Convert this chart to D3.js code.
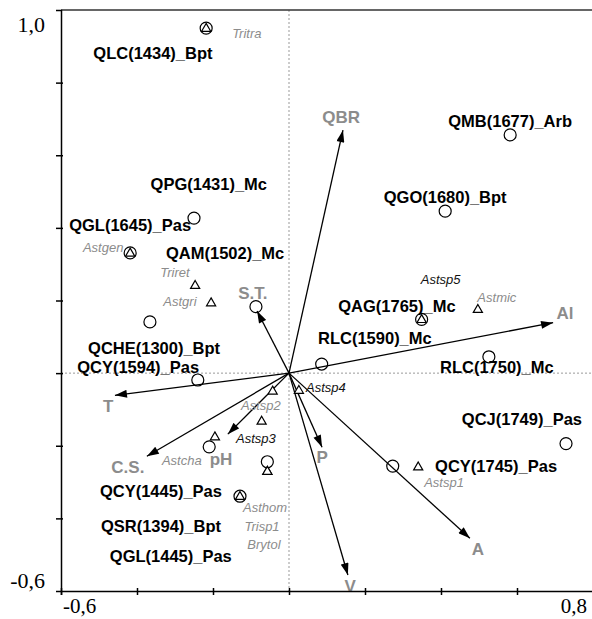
<!DOCTYPE html>
<html lang="en">

<head>
    <meta charset="UTF-8">
    <script src="https://d3js.org/d3.v7.min.js"></script>
    <title>CCA biplot</title>
    <style>
        body { margin: 0; background: #fff; }
        svg { display: block; }
    </style>
</head>

<body>
    <svg class="chart"></svg>
    <script>
        // sites (circles)
        var siteNames = ["QLC(1434)_Bpt", "QMB(1677)_Arb", "QGO(1680)_Bpt", "QPG(1431)_Mc", "QGL(1645)_Pas",
            "QCHE(1300)_Bpt", "QAM(1502)_Mc", "QCY(1594)_Pas", "RLC(1590)_Mc", "RLC(1750)_Mc", "QAG(1765)_Mc",
            "QCJ(1749)_Pas", "QCY(1745)_Pas", "QCY(1445)_Pas", "QSR(1394)_Bpt", "QGL(1445)_Pas"];
        var siteX = [-0.218, 0.582, 0.411, -0.250, -0.418, -0.366, -0.087, -0.240, 0.086, 0.526, 0.349,
            0.729, 0.273, -0.210, -0.057, -0.129];
        var siteY = [0.950, 0.656, 0.446, 0.427, 0.331, 0.141, 0.183, -0.019, 0.025, 0.045, 0.148,
            -0.194, -0.256, -0.203, -0.244, -0.339];
        var siteLabelX = [-0.358, 0.582, 0.411, -0.211, -0.418, -0.355, -0.168, -0.397, 0.226, 0.547, 0.284,
            0.613, 0.545, -0.337, -0.337, -0.311];
        var siteLabelY = [0.882, 0.694, 0.485, 0.521, 0.408, 0.069, 0.331, 0.017, 0.096, 0.017, 0.185,
            -0.127, -0.256, -0.325, -0.421, -0.504];

        // species (triangles)
        var speciesNames = ["Tritra", "Astgen", "Triret", "Astgri", "Astsp5", "Astmic", "Astsp4", "Astsp2",
            "Astsp3", "Astcha", "Asthom", "Trisp1", "Brytol", "Astsp1"];
        var speciesX = [-0.218, -0.418, -0.247, -0.205, 0.349, 0.497, 0.026, -0.043, -0.072, -0.195, -0.129,
            -0.057, -0.057, 0.340];
        var speciesY = [0.950, 0.331, 0.242, 0.194, 0.148, 0.176, -0.047, -0.049, -0.132, -0.175, -0.339,
            -0.270, -0.270, -0.258];
        var speciesLabelX = [-0.111, -0.489, -0.300, -0.287, 0.399, 0.547, 0.097, -0.074, -0.087, -0.282,
            -0.063, -0.071, -0.066, 0.408];
        var speciesLabelY = [0.937, 0.347, 0.278, 0.198, 0.259, 0.209, -0.039, -0.088, -0.179, -0.240,
            -0.369, -0.421, -0.471, -0.300];
        var speciesDark = [false, false, false, false, true, false, true, false, true, false, false, false, false, false];

        // environmental variables (arrows)
        var envNames = ["QBR", "Al", "A", "V", "P", "pH", "C.S.", "T", "S.T."];
        var envX = [0.142, 0.695, 0.476, 0.155, 0.087, -0.161, -0.374, -0.458, -0.084];
        var envY = [0.669, 0.139, -0.455, -0.556, -0.204, -0.168, -0.229, -0.061, 0.171];
        var envLabelX = [0.137, 0.726, 0.497, 0.161, 0.087, -0.179, -0.424, -0.476, -0.095];
        var envLabelY = [0.705, 0.165, -0.485, -0.587, -0.231, -0.237, -0.259, -0.091, 0.220];

        var xTicks = [-0.6, -0.4, -0.2, 0, 0.2, 0.4, 0.6];
        var yTicks = [-0.4, -0.2, 0, 0.2, 0.4, 0.6, 0.8];

        var width = 592, height = 619;
        var svg = d3.select(".chart")
            .attr("width", width)
            .attr("height", height);

        var x = d3.scaleLinear().domain([-0.6, 0.8]).range([61, 593]);
        var y = d3.scaleLinear().domain([-0.6, 1.0]).range([591, 10]);

        svg.append("defs").append("marker")
            .attr("id", "head")
            .attr("viewBox", "0 0 12 8")
            .attr("refX", 12)
            .attr("refY", 4)
            .attr("markerUnits", "userSpaceOnUse")
            .attr("markerWidth", 13)
            .attr("markerHeight", 8)
            .attr("orient", "auto")
            .append("path")
            .attr("d", "M0,0 L12,4 L0,8 Z")
            .attr("fill", "black");

        // origin cross
        svg.append("line")
            .attr("x1", x(0)).attr("x2", x(0))
            .attr("y1", y(1.0)).attr("y2", y(-0.6))
            .attr("stroke", "#999").attr("stroke-width", 1)
            .attr("stroke-dasharray", "2,2");
        svg.append("line")
            .attr("x1", x(-0.6)).attr("x2", width)
            .attr("y1", y(0)).attr("y2", y(0))
            .attr("stroke", "#999").attr("stroke-width", 1)
            .attr("stroke-dasharray", "2,2");

        // arrows
        for (var i = 0; i < envNames.length; i++) {
            svg.append("line")
                .attr("x1", x(0)).attr("y1", y(0))
                .attr("x2", x(envX[i])).attr("y2", y(envY[i]))
                .attr("stroke", "black").attr("stroke-width", 1.3)
                .attr("marker-end", "url(#head)");
            svg.append("text")
                .attr("x", x(envLabelX[i]))
                .attr("y", y(envLabelY[i]))
                .attr("dy", "0.36em")
                .attr("text-anchor", "middle")
                .attr("font-family", "Liberation Sans, Arial, sans-serif")
                .attr("font-weight", "bold")
                .attr("font-size", 17)
                .attr("fill", "#8c8c8c")
                .text(envNames[i]);
        }

        // sites
        for (var i = 0; i < siteNames.length; i++) {
            svg.append("circle")
                .attr("cx", x(siteX[i]))
                .attr("cy", y(siteY[i]))
                .attr("r", 6)
                .attr("fill", "none")
                .attr("stroke", "black")
                .attr("stroke-width", 1.2);
            svg.append("text")
                .attr("x", x(siteLabelX[i]))
                .attr("y", y(siteLabelY[i]))
                .attr("dy", "0.36em")
                .attr("text-anchor", "middle")
                .attr("font-family", "Liberation Sans, Arial, sans-serif")
                .attr("font-weight", "bold")
                .attr("font-size", 16.5)
                .attr("fill", "black")
                .text(siteNames[i]);
        }

        // species
        var tri = d3.symbol().type(d3.symbolTriangle).size(36);
        for (var i = 0; i < speciesNames.length; i++) {
            svg.append("path")
                .attr("d", tri)
                .attr("transform", "translate(" + x(speciesX[i]) + "," + (y(speciesY[i]) + 0.5) + ")")
                .attr("fill", "white")
                .attr("stroke", "black")
                .attr("stroke-width", 1.2);
            svg.append("text")
                .attr("x", x(speciesLabelX[i]))
                .attr("y", y(speciesLabelY[i]))
                .attr("dy", "0.36em")
                .attr("text-anchor", "middle")
                .attr("font-family", "Liberation Sans, Arial, sans-serif")
                .attr("font-style", "italic")
                .attr("font-size", 13)
                .attr("fill", speciesDark[i] ? "#111" : "#8c8c8c")
                .text(speciesNames[i]);
        }

        // frame and axes
        svg.append("line")
            .attr("x1", x(-0.6)).attr("x2", width)
            .attr("y1", y(1.0)).attr("y2", y(1.0))
            .attr("stroke", "#333").attr("stroke-width", 1.5);

        var yAxis = svg.append("g")
            .attr("transform", "translate(" + x(-0.6) + ",0)")
            .call(d3.axisLeft(y).tickValues(yTicks).tickSizeOuter(0).tickSize(5).tickFormat(""));
        yAxis.select(".domain").attr("stroke", "black").attr("stroke-width", 1.5);
        yAxis.selectAll(".tick line").attr("x1", 2).attr("stroke-width", 1.5);

        var xAxis = svg.append("g")
            .attr("transform", "translate(0," + y(-0.6) + ")")
            .call(d3.axisBottom(x).tickValues(xTicks).tickSizeOuter(0).tickSize(4).tickFormat(""));
        xAxis.select(".domain").attr("stroke", "black").attr("stroke-width", 1.5);
        xAxis.selectAll(".tick line").attr("y1", -3).attr("stroke-width", 1.5);

        // axis end labels
        var serif = "Liberation Serif, Times New Roman, serif";
        svg.append("text")
            .attr("x", x(-0.6) - 16).attr("y", y(1.0) + 22)
            .attr("text-anchor", "end").attr("font-family", serif).attr("font-size", 22)
            .text("1,0");
        svg.append("text")
            .attr("x", x(-0.6) - 16).attr("y", y(-0.6) - 3)
            .attr("text-anchor", "end").attr("font-family", serif).attr("font-size", 22)
            .text("-0,6");
        svg.append("text")
            .attr("x", x(-0.6) + 2).attr("y", 613)
            .attr("text-anchor", "start").attr("font-family", serif).attr("font-size", 21)
            .text("-0,6");
        svg.append("text")
            .attr("x", width - 5).attr("y", 613)
            .attr("text-anchor", "end").attr("font-family", serif).attr("font-size", 21)
            .text("0,8");
    </script>
</body>

</html>
